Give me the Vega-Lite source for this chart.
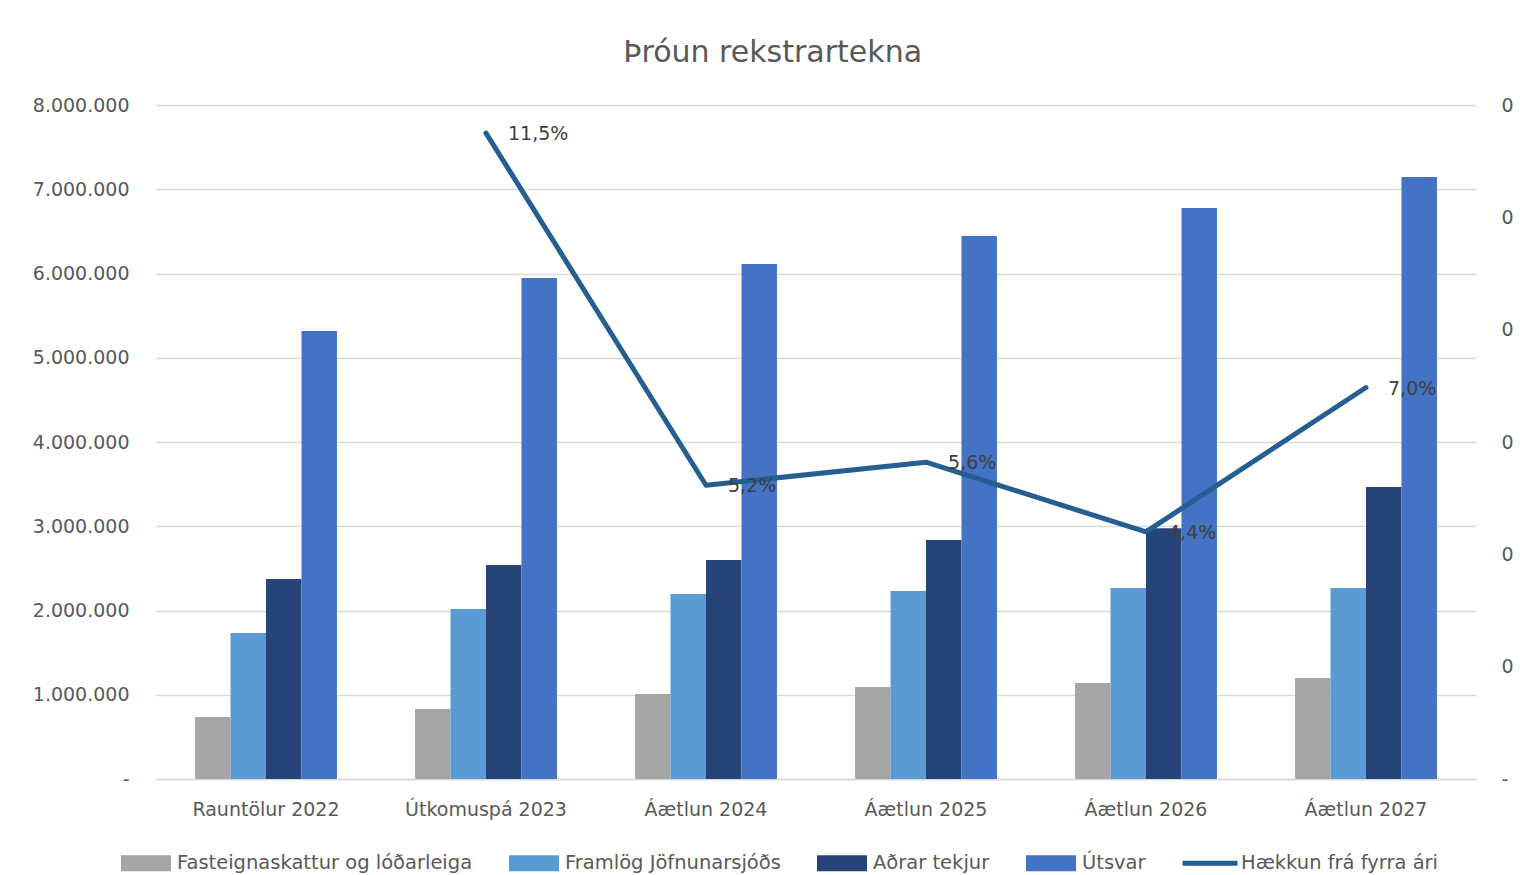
{
  "$schema": "https://vega.github.io/schema/vega-lite/v6.json",
  "width": 1320,
  "height": 674,
  "autosize": "none",
  "padding": {"left": 156, "top": 105, "right": 44, "bottom": 96},
  "background": "white",
  "config": {
    "font": "DejaVu Sans",
    "view": {"stroke": null},
    "locale": {"number": {"decimal": ",", "thousands": ".", "grouping": [3], "currency": ["", ""]}}
  },
  "title": {
    "text": "Þróun rekstrartekna",
    "fontSize": 30,
    "fontWeight": "normal",
    "color": "#595959",
    "frame": "bounds",
    "anchor": "middle",
    "offset": 28
  },
  "datasets": {
    "bars": [
      {"cat": "Rauntölur 2022", "series": "Fasteignaskattur og lóðarleiga", "value": 735000},
      {"cat": "Rauntölur 2022", "series": "Framlög Jöfnunarsjóðs", "value": 1733000},
      {"cat": "Rauntölur 2022", "series": "Aðrar tekjur", "value": 2374000},
      {"cat": "Rauntölur 2022", "series": "Útsvar", "value": 5317000},
      {"cat": "Útkomuspá 2023", "series": "Fasteignaskattur og lóðarleiga", "value": 831000},
      {"cat": "Útkomuspá 2023", "series": "Framlög Jöfnunarsjóðs", "value": 2018000},
      {"cat": "Útkomuspá 2023", "series": "Aðrar tekjur", "value": 2540000},
      {"cat": "Útkomuspá 2023", "series": "Útsvar", "value": 5947000},
      {"cat": "Áætlun 2024", "series": "Fasteignaskattur og lóðarleiga", "value": 1009000},
      {"cat": "Áætlun 2024", "series": "Framlög Jöfnunarsjóðs", "value": 2196000},
      {"cat": "Áætlun 2024", "series": "Aðrar tekjur", "value": 2599000},
      {"cat": "Áætlun 2024", "series": "Útsvar", "value": 6113000},
      {"cat": "Áætlun 2025", "series": "Fasteignaskattur og lóðarleiga", "value": 1092000},
      {"cat": "Áætlun 2025", "series": "Framlög Jöfnunarsjóðs", "value": 2231000},
      {"cat": "Áætlun 2025", "series": "Aðrar tekjur", "value": 2837000},
      {"cat": "Áætlun 2025", "series": "Útsvar", "value": 6445000},
      {"cat": "Áætlun 2026", "series": "Fasteignaskattur og lóðarleiga", "value": 1139000},
      {"cat": "Áætlun 2026", "series": "Framlög Jöfnunarsjóðs", "value": 2267000},
      {"cat": "Áætlun 2026", "series": "Aðrar tekjur", "value": 2975000},
      {"cat": "Áætlun 2026", "series": "Útsvar", "value": 6777000},
      {"cat": "Áætlun 2027", "series": "Fasteignaskattur og lóðarleiga", "value": 1199000},
      {"cat": "Áætlun 2027", "series": "Framlög Jöfnunarsjóðs", "value": 2267000},
      {"cat": "Áætlun 2027", "series": "Aðrar tekjur", "value": 3466000},
      {"cat": "Áætlun 2027", "series": "Útsvar", "value": 7145000}
    ],
    "growth": [
      {"cat": "Útkomuspá 2023", "pct": 0.115},
      {"cat": "Áætlun 2024", "pct": 0.0523},
      {"cat": "Áætlun 2025", "pct": 0.0564},
      {"cat": "Áætlun 2026", "pct": 0.044},
      {"cat": "Áætlun 2027", "pct": 0.0697}
    ]
  },
  "encoding": {
    "x": {
      "field": "cat",
      "type": "nominal",
      "sort": ["Rauntölur 2022", "Útkomuspá 2023", "Áætlun 2024", "Áætlun 2025", "Áætlun 2026", "Áætlun 2027"],
      "scale": {"paddingInner": 0.355, "paddingOuter": 0.1775},
      "axis": {
        "title": null,
        "labelAngle": 0,
        "labelFontSize": 19,
        "labelColor": "#595959",
        "labelPadding": 21,
        "ticks": false,
        "domainColor": "#D9D9D9",
        "domainWidth": 1.5
      }
    }
  },
  "layer": [
    {
      "data": {"name": "bars"},
      "mark": {"type": "bar"},
      "encoding": {
        "xOffset": {
          "field": "series",
          "type": "nominal",
          "sort": ["Fasteignaskattur og lóðarleiga", "Framlög Jöfnunarsjóðs", "Aðrar tekjur", "Útsvar"],
          "scale": {"paddingInner": 0, "paddingOuter": 0}
        },
        "y": {
          "field": "value",
          "type": "quantitative",
          "scale": {"domain": [0, 8000000]},
          "axis": {
            "title": null,
            "values": [0, 1000000, 2000000, 3000000, 4000000, 5000000, 6000000, 7000000, 8000000],
            "format": ",d",
            "labelExpr": "datum.value == 0 ? '-' : datum.label",
            "labelFontSize": 19,
            "labelColor": "#595959",
            "labelPadding": 27,
            "ticks": false,
            "domain": false,
            "gridColor": "#D9D9D9",
            "gridWidth": 1.5
          }
        },
        "color": {
          "field": "series",
          "type": "nominal",
          "scale": {
            "domain": ["Fasteignaskattur og lóðarleiga", "Framlög Jöfnunarsjóðs", "Aðrar tekjur", "Útsvar", "Hækkun frá fyrra ári"],
            "range": ["#A5A5A5", "#5B9BD5", "#264478", "#4472C4", "#255E91"]
          },
          "legend": {
            "title": null,
            "orient": "none",
            "legendX": -35,
            "legendY": 733,
            "direction": "horizontal",
            "columns": 5,
            "columnPadding": 36,
            "labelFontSize": 19.5,
            "labelColor": "#595959",
            "labelLimit": 400,
            "labelOffset": 6,
            "symbolSize": 2500,
            "symbolType": "M-1,-0.32H1V0.32H-1Z",
            "symbolStrokeWidth": 0,
            "encode": {
              "symbols": {
                "update": {
                  "shape": {"signal": "datum.label === 'Hækkun frá fyrra ári' ? 'M-1.1,-0.1H1.1V0.1H-1.1Z' : 'M-1,-0.32H1V0.32H-1Z'"}
                }
              }
            }
          }
        }
      }
    },
    {
      "data": {"name": "growth"},
      "layer": [
        {
          "mark": {"type": "line", "color": "#255E91", "strokeWidth": 5, "strokeCap": "round", "strokeJoin": "round"},
          "encoding": {
            "y": {
              "field": "pct",
              "type": "quantitative",
              "scale": {"domain": [0, 0.12]},
              "axis": {
                "orient": "right",
                "title": null,
                "values": [0, 0.02, 0.04, 0.06, 0.08, 0.1, 0.12],
                "labelExpr": "datum.value == 0 ? '-' : '0'",
                "labelFontSize": 19,
                "labelColor": "#595959",
                "labelPadding": 25,
                "ticks": false,
                "domain": false,
                "grid": false
              }
            }
          }
        },
        {
          "mark": {"type": "text", "align": "left", "baseline": "middle", "dx": 22, "dy": 1, "fontSize": 19, "color": "#404040"},
          "encoding": {
            "y": {"field": "pct", "type": "quantitative"},
            "text": {"field": "pct", "type": "quantitative", "format": ".1%"}
          }
        }
      ]
    }
  ],
  "resolve": {"scale": {"y": "independent"}}
}
